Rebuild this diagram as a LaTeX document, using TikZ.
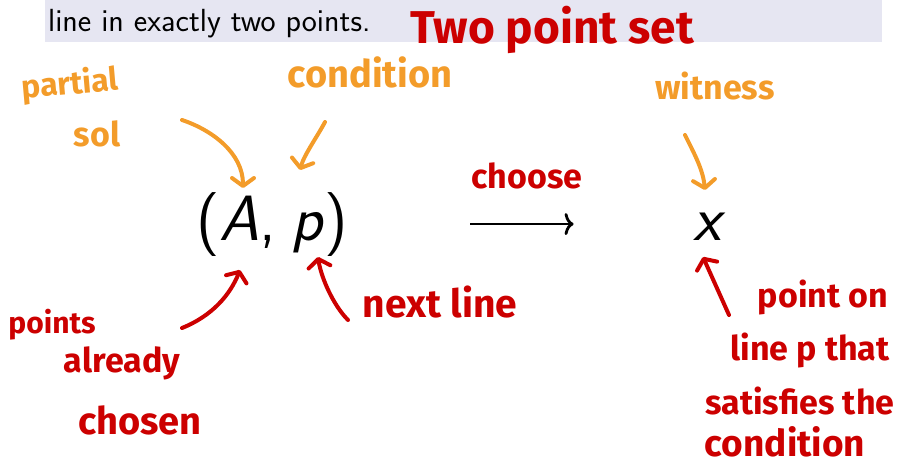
\documentclass[tikz,border=0pt]{standalone}
\usepackage{fontspec}
\usepackage{tikz}
\usetikzlibrary{arrows.meta, positioning}
\newfontfamily\handfont{Fira Sans}
\definecolor{ink-red}{HTML}{CC0000}
\definecolor{ink-orange}{HTML}{F39C2A}
\definecolor{block-bg}{HTML}{E6E6F2}

\tikzset{
  redhand/.style={text=ink-red, inner sep=0pt,
    font=\handfont\bfseries\fontsize{34}{36}\selectfont},
  orangehand/.style={text=ink-orange, inner sep=0pt,
    font=\handfont\bfseries\fontsize{34}{36}\selectfont},
  inkstroke/.style={line width=4pt, line cap=round,
    -{Straight Barb[length=8pt, width=22pt, round]}},
  redstroke/.style={inkstroke, draw=ink-red},
  orangestroke/.style={inkstroke, draw=ink-orange},
  mathbig/.style={inner sep=0pt, anchor=base,
    font=\sffamily\fontsize{64}{70}\selectfont}
}

\begin{document}
\begin{tikzpicture}[x=1pt, y=-1pt]
  \useasboundingbox (0,0) rectangle (919,467);

  % block strip at the top
  \fill[block-bg] (45,0) rectangle (882,42);
  \node[anchor=base west, inner sep=0pt, font=\sffamily\fontsize{32}{34}\selectfont]
    (blocktext) at (48,31) {line in exactly two points.};

  % main expression
  \node[mathbig] (ap) at (272,240) {(\textit{A},\hspace{-0.08em} \textit{p})};
  \node[mathbig] (wx) at (710,240) {\vphantom{(}\textit{x}};
  \draw[line width=2.8pt, -{Computer Modern Rightarrow[length=9pt, width=22pt]},
        shorten <=122pt, shorten >=120pt] (ap) -- (wx);

  % red notes
  \node[redhand, font=\handfont\bfseries\fontsize{46}{48}\selectfont]
    (title) at (552,30) {Two point set};
  \node[redhand] (choose) at (527,176) {choose};
  \node[redhand, font=\handfont\bfseries\fontsize{30}{32}\selectfont]
    (points) at (52,325) {points};
  \node[redhand] (already) at (122,363) {already};
  \node[redhand, font=\handfont\bfseries\fontsize{38}{40}\selectfont]
    (chosen) at (140,420) {chosen};
  \node[redhand, font=\handfont\bfseries\fontsize{39}{41}\selectfont]
    (nextline) at (440,302) {next line};
  \node[redhand] (pointon) at (823,297) {point on};
  \node[redhand] (linep) at (810,350) {line p that};
  \node[redhand] (satisfies) at (800,401) {satisfies the};
  \node[redhand, font=\handfont\bfseries\fontsize{37}{39}\selectfont]
    (condred) at (785,442) {condition};

  % orange notes
  \node[orangehand, rotate=5, font=\handfont\bfseries\fontsize{32}{34}\selectfont]
    (partial) at (70,85) {partial};
  \node[orangehand] (sol) at (97,134) {sol};
  \node[orangehand, font=\handfont\bfseries\fontsize{38}{40}\selectfont]
    (condition) at (370,72) {condition};
  \node[orangehand] (witness) at (715,86) {witness};

  % stroke ends
  \coordinate (sol-tail) at (182,120);
  \coordinate (ap-tip-a) at (243,188);
  \coordinate (cond-tail) at (325,122);
  \coordinate (ap-tip-p) at (300,170);
  \coordinate (wit-tail) at (685,135);
  \coordinate (wx-top) at (705,190);
  \coordinate (already-tail) at (182,328);
  \coordinate (ap-below-a) at (240,270);
  \coordinate (next-tail) at (348,320);
  \coordinate (ap-below-p) at (318,257);
  \coordinate (point-tail) at (729,315);
  \coordinate (wx-below) at (703,257);

  % orange arrows
  \draw[orangestroke] (sol-tail) .. controls +(30,10) and +(0,-35) .. (ap-tip-a);
  \draw[orangestroke] (cond-tail) .. controls +(-8,15) and +(4,-15) .. (ap-tip-p);
  \draw[orangestroke] (wit-tail) .. controls +(10,20) and +(-2,-20) .. (wx-top);

  % red arrows
  \draw[redstroke] (already-tail) .. controls +(30,-12) and +(-10,25) .. (ap-below-a);
  \draw[redstroke] (next-tail) .. controls +(-15,-15) and +(3,20) .. (ap-below-p);
  \draw[redstroke] (point-tail) -- (wx-below);
\end{tikzpicture}
\end{document}
